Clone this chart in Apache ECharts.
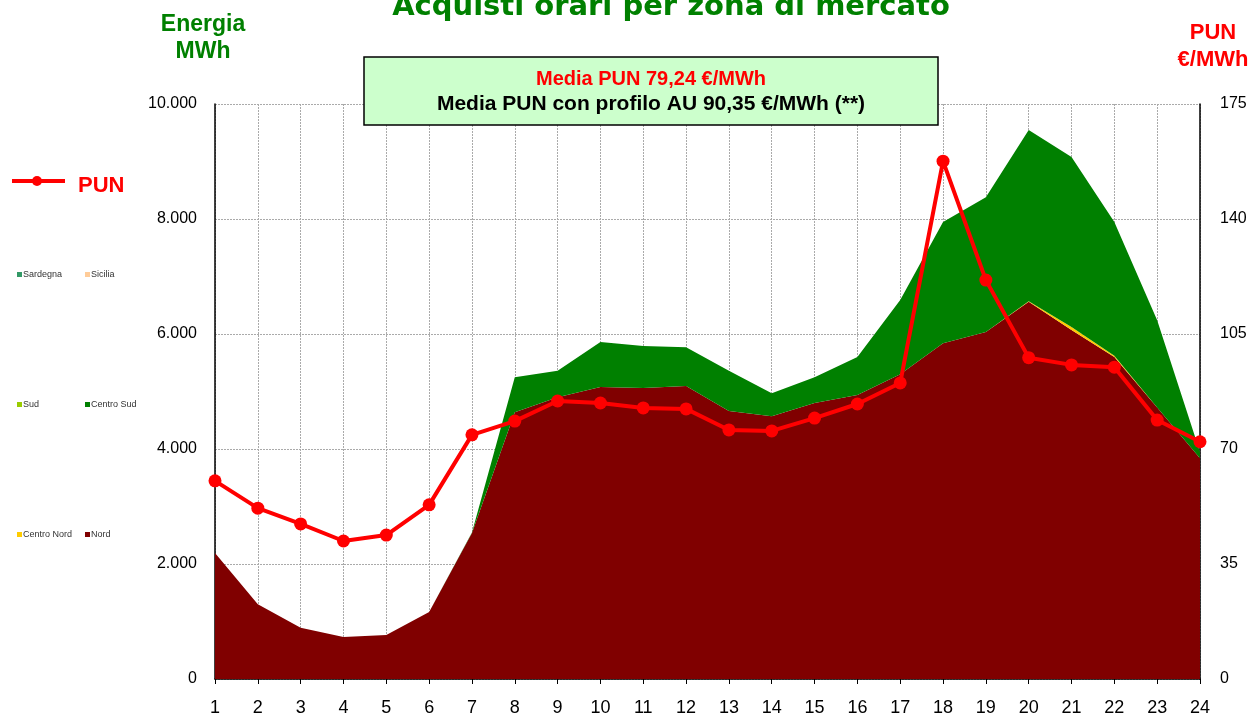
<!DOCTYPE html>
<html><head><meta charset="utf-8">
<script src="https://cdn.jsdelivr.net/npm/echarts@6/dist/echarts.min.js"></script>
<style>html,body{margin:0;padding:0;background:#fff}#c{width:1252px;height:717px}</style>
</head><body><div id="c"></div>
<script>
var hours = ['1','2','3','4','5','6','7','8','9','10','11','12','13','14','15','16','17','18','19','20','21','22','23','24'];
var nord = [2190,1300,890,730,765,1165,2540,4640,4900,5080,5060,5095,4660,4570,4800,4940,5300,5840,6035,6560,6070,5600,4720,3840];
var centroNord = [0,0,0,0,0,0,0,0,0,0,0,0,0,0,0,0,0,0,0,10,50,20,0,0];
var centroSud = [0,0,0,0,0,0,10,610,460,780,730,675,700,400,450,660,1290,2110,2345,2980,2960,2330,1520,110];
var sud = [0,0,0,0,0,0,0,0,0,0,0,0,0,0,0,0,0,0,0,0,0,0,0,0];
var sicilia = [0,0,0,0,0,0,0,0,0,0,0,0,0,0,0,0,0,0,0,0,0,0,0,0];
var sardegna = [0,0,0,0,0,0,0,0,0,0,0,0,0,0,0,0,0,0,0,0,0,0,0,0];
var pun = [60.3,52.0,47.2,42.0,43.8,53.0,74.3,78.5,84.6,84.0,82.5,82.2,75.8,75.5,79.4,83.7,90.1,157.6,121.4,97.8,95.6,94.9,78.8,72.2];
var leftTicks = [0,2000,4000,6000,8000,10000];
var rightTicks = [0,35,70,105,140,175];

var FONT = '"Liberation Sans", Arial, sans-serif';
var chart = echarts.init(document.getElementById('c'), null, {renderer:'canvas'});

function zone(name, data, color){
  return {name:name, type:'line', stack:'zone', data:data, showSymbol:false, symbol:'none',
    lineStyle:{width:0}, areaStyle:{color:color, opacity:1}, itemStyle:{color:color}, z:2, silent:true};
}
function legItem(x, y, color, label){
  return [
    {type:'rect', shape:{x:x, y:y-3, width:5, height:5}, style:{fill:color}},
    {type:'text', x:x+6, y:y, style:{text:label, font:'9px '+FONT, fill:'#333', verticalAlign:'middle'}}
  ];
}
var graphics = [
  {type:'text', x:671, y:7, style:{text:'Acquisti orari per zona di mercato', font:'bold 29px "DejaVu Sans", Verdana, sans-serif', fill:'#008000', align:'center', verticalAlign:'middle'}},
  {type:'text', x:203, y:25, style:{text:'Energia', font:'bold 23px '+FONT, fill:'#008000', align:'center', verticalAlign:'middle'}},
  {type:'text', x:203, y:52, style:{text:'MWh', font:'bold 23px '+FONT, fill:'#008000', align:'center', verticalAlign:'middle'}},
  {type:'text', x:1213, y:33, style:{text:'PUN', font:'bold 22px '+FONT, fill:'#ff0000', align:'center', verticalAlign:'middle'}},
  {type:'text', x:1213, y:60, style:{text:'€/MWh', font:'bold 22px '+FONT, fill:'#ff0000', align:'center', verticalAlign:'middle'}},
  {type:'rect', shape:{x:364, y:57, width:574, height:68}, style:{fill:'#ccffcc', stroke:'#000', lineWidth:1.5}, z:100},
  {type:'text', x:651, y:79, z:101, style:{text:'Media PUN 79,24 €/MWh', font:'bold 20px '+FONT, fill:'#ff0000', align:'center', verticalAlign:'middle'}},
  {type:'text', x:651, y:104, z:101, style:{text:'Media PUN con profilo AU 90,35 €/MWh (**)', font:'bold 21px '+FONT, fill:'#000', align:'center', verticalAlign:'middle'}},
  {type:'line', shape:{x1:12, y1:181, x2:65, y2:181}, style:{stroke:'#ff0000', lineWidth:4}},
  {type:'circle', shape:{cx:37, cy:181, r:5}, style:{fill:'#ff0000'}},
  {type:'text', x:78, y:186, style:{text:'PUN', font:'bold 22px '+FONT, fill:'#ff0000', verticalAlign:'middle'}}
];
graphics = graphics.concat(legItem(17,275,'#339966','Sardegna'), legItem(85,275,'#ffcc99','Sicilia'),
  legItem(17,405,'#99cc00','Sud'), legItem(85,405,'#008000','Centro Sud'),
  legItem(17,535,'#ffcc00','Centro Nord'), legItem(85,535,'#800000','Nord'));

chart.setOption({
  animation:false,
  backgroundColor:'#fff',
  grid:{left:215, right:52, top:104, bottom:38, containLabel:false},
  xAxis:{type:'category', data:hours, boundaryGap:false,
    axisLine:{show:true, lineStyle:{color:'#000', width:1.5}},
    axisTick:{show:true, length:5, lineStyle:{color:'#000'}},
    axisLabel:{color:'#000', fontFamily:FONT, fontSize:18, margin:20},
    splitLine:{show:true, lineStyle:{color:'#aaa', type:[2,1], width:1}}},
  yAxis:[
    {type:'value', min:0, max:10000, interval:2000, position:'left',
      axisLine:{show:true, lineStyle:{color:'#000', width:1.5}},
      axisTick:{show:false},
      axisLabel:{color:'#000', fontFamily:FONT, fontSize:16, margin:18,
        formatter:function(v){return v.toLocaleString('it-IT').replace(/\s/g,'.');}},
      splitLine:{show:true, lineStyle:{color:'#aaa', type:[2,1], width:1}}},
    {type:'value', min:0, max:175, interval:35, position:'right',
      axisLine:{show:true, lineStyle:{color:'#000', width:1.5}},
      axisTick:{show:false},
      axisLabel:{color:'#000', fontFamily:FONT, fontSize:16, margin:20},
      splitLine:{show:false}}
  ],
  series:[
    zone('Nord', nord, '#800000'),
    zone('Centro Nord', centroNord, '#ffcc00'),
    zone('Centro Sud', centroSud, '#008000'),
    zone('Sud', sud, '#99cc00'),
    zone('Sicilia', sicilia, '#ffcc99'),
    zone('Sardegna', sardegna, '#339966'),
    {name:'PUN', type:'line', yAxisIndex:1, data:pun, symbol:'circle', symbolSize:13, showSymbol:true,
      lineStyle:{color:'#ff0000', width:4}, itemStyle:{color:'#ff0000'}, z:10}
  ],
  graphic:graphics
});
</script></body></html>
